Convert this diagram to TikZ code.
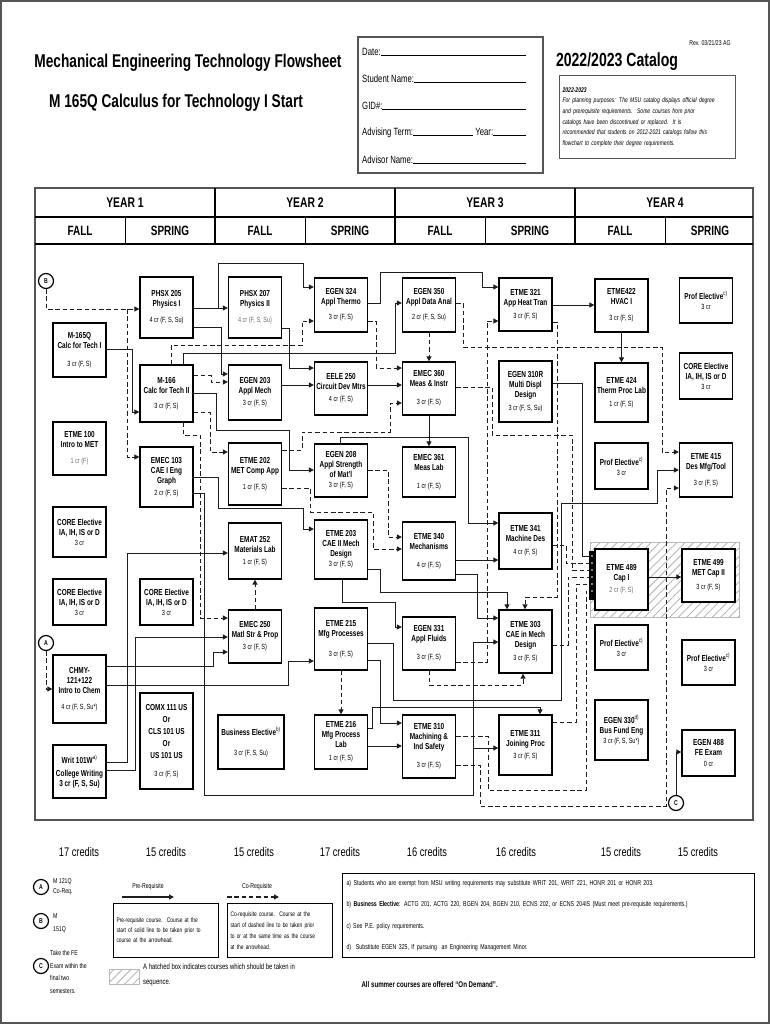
\documentclass[tikz,border=0pt]{standalone}
\usepackage{fontspec}
\setmainfont{Liberation Sans}[FakeStretch=0.74]
\usetikzlibrary{arrows.meta,patterns.meta}
\definecolor{cLine}{HTML}{1E1E1E}
\definecolor{cFrame}{HTML}{555555}
\definecolor{cHatch}{HTML}{B8B8B8}
\definecolor{cSoft}{HTML}{6E6E6E}
\newcommand{\fsz}[2]{\fontsize{#1}{#2}\selectfont}
\newcommand{\crd}[2][5pt]{\\[#1]{\mdseries\fsz{7.5}{9}#2}}
\newcommand{\nt}[1]{\textsuperscript{\mdseries #1}}
\tikzset{
  crs/.style={draw=black, line width=1.3pt, fill=white, align=center,
              font=\fsz{8.7}{9.9}\bfseries, inner sep=1pt, minimum width=53pt},
  pre/.style={draw=cLine, line width=1pt, -{Triangle[length=5pt,width=5pt]}},
  co/.style={pre, dash pattern=on 4.5pt off 2.8pt},
  circtag/.style={circle, draw=black, line width=1.2pt, fill=white, inner sep=0pt,
                  minimum size=15pt, font=\fsz{7}{7}\bfseries},
  ttl/.style={font=\fsz{18.5}{21}\bfseries},
  yr/.style={font=\fsz{14}{16}\bfseries},
  sem/.style={font=\fsz{13.5}{15}\bfseries},
  credit/.style={font=\fsz{12.5}{14}},
  field/.style={anchor=west, font=\fsz{10.5}{12}, inner sep=0pt},
  lgd/.style={font=\fsz{7}{9.5}, align=left, inner sep=0pt},
  lgdbox/.style={draw=black, line width=1pt, align=left, inner sep=3pt, anchor=north west},
  hatch/.style={pattern={Lines[angle=45,distance=6pt,line width=0.9pt]}, pattern color=cHatch},
}

\begin{document}
\begin{tikzpicture}[x=1pt,y=-1pt]
  \useasboundingbox (0,0) rectangle (770,1024);
  \draw[cFrame, line width=1.2pt] (1,1) rectangle (769,1023);

  % heading
  \node[ttl] (title) at (188,63) {Mechanical Engineering Technology Flowsheet};
  \node[ttl] (subtitle) at (176,103) {M 165Q Calculus for Technology I Start};
  \node[draw=cFrame, line width=1.4pt, minimum width=185, minimum height=136] (info) at (450.5,105) {};
  \node[field] (fdate) at (362,52) {\makebox[164pt][l]{Date:\hrulefill}};
  \node[field] (fname) at (362,79) {\makebox[164pt][l]{Student Name:\hrulefill}};
  \node[field] (fgid) at (362,106) {\makebox[164pt][l]{GID\#:\hrulefill}};
  \node[field] (fterm) at (362,133) {\makebox[164pt][l]{Advising Term:\makebox[60pt]{\hrulefill}\ Year:\hrulefill}};
  \node[field] (fadv) at (362,160) {\makebox[164pt][l]{Advisor Name:\hrulefill}};
  \node[font=\fsz{7}{8}] (rev) at (710,43) {Rev. 03/21/23 AG};
  \node[font=\fsz{19}{22}\bfseries] (catalog) at (617,62) {2022/2023 Catalog};
  \node[draw=cFrame, line width=1.2pt, anchor=north west, text width=170, minimum height=83,
        inner sep=3pt, align=left, font=\fsz{6.8}{10.6}\itshape] (catnote) at (559,75)
    {\textbf{2022-2023}\\For planning purposes: The MSU catalog displays official degree\\and prerequisite requirements.\ \ Some courses from prior\\catalogs have been discontinued or replaced.\ \ It is\\recommended that students on 2012-2021 catalogs follow this\\flowchart to complete their degree requirements.};

  % year grid
  \draw[cFrame, line width=1.6pt] (35,188) rectangle (753,820);
  \draw[line width=1.4pt] (35,217) -- (753,217) (35,244) -- (753,244);
  \foreach \x in {215,395,575} \draw[line width=1.4pt] (\x,188) -- (\x,244);
  \foreach \x in {125,305,485,665} \draw[line width=1pt] (\x,217) -- (\x,244);
  \foreach \x/\n in {125/1,305/2,485/3,665/4} \node[yr] (year\n) at (\x,203) {YEAR \n};
  \foreach \x/\n in {80/1,260/3,440/5,620/7} \node[sem] (sem\n) at (\x,231) {FALL};
  \foreach \x/\n in {170/2,350/4,530/6,710/8} \node[sem] (sem\n) at (\x,231) {SPRING};

  \fill[hatch] (590,542) rectangle (739,617);
  \draw[cHatch, line width=0.8pt] (590,542) rectangle (739,617);

  % year 1
  \node[crs, minimum height=54] (m165) at (79.5,350) {M-165Q\\Calc for Tech I\crd[8pt]{3 cr (F, S)}};
  \node[crs, minimum height=53] (etme100) at (79.5,448.5) {ETME 100\\Intro to MET\crd[6pt]{\color{cSoft}1 cr (F)}};
  \node[crs, minimum height=50] (core1) at (79.5,532) {CORE Elective\\IA, IH, IS or D\crd[0pt]{3 cr}};
  \node[crs, minimum height=46] (core2) at (79.5,602) {CORE Elective\\IA, IH, IS or D\crd[0pt]{3 cr}};
  \node[crs, minimum height=68] (chmy) at (79.5,689) {CHMY-\\121+122\\Intro to Chem\crd[6pt]{4 cr (F, S, Su*)}};
  \node[crs, minimum height=53] (writ) at (79.5,771.5) {Writ 101W\nt{a)}\\[3pt]College Writing\\3 cr (F, S, Su)};
  \node[crs, minimum height=61] (phsx205) at (166.5,307.5) {PHSX 205\\Physics I\crd[6pt]{4 cr (F, S, Su)}};
  \node[crs, minimum height=57] (m166) at (166.5,393.5) {M-166\\Calc for Tech II\crd{3 cr (F, S)}};
  \node[crs, minimum height=60] (emec103) at (166.5,477) {EMEC 103\\CAE I Eng\\Graph\crd[2pt]{2 cr (F, S)}};
  \node[crs, minimum height=46] (core3) at (166.5,602) {CORE Elective\\IA, IH, IS or D\crd[0pt]{3 cr}};
  \node[crs, minimum height=96] (comx) at (166.5,741) {COMX 111 US\\[2pt]Or\\[2pt]CLS 101 US\\[2pt]Or\\[2pt]US 101 US\crd[8pt]{3 cr (F, S)}};

  % year 2
  \node[crs, minimum height=61] (phsx207) at (255,307.5) {PHSX 207\\Physics II\crd[6pt]{\color{cSoft}4 cr (F, S, Su)}};
  \node[crs, minimum height=55] (egen203) at (255,392.5) {EGEN 203\\Appl Mech\crd[2pt]{3 cr (F, S)}};
  \node[crs, minimum height=62] (etme202) at (255,474) {ETME 202\\MET Comp App\crd[6pt]{1 cr (F, S)}};
  \node[crs, minimum height=56] (emat252) at (255,551) {EMAT 252\\Materials Lab\crd[2pt]{1 cr (F, S)}};
  \node[crs, minimum height=53] (emec250) at (255,636.5) {EMEC 250\\Matl Str \& Prop\crd[2pt]{3 cr (F, S)}};
  \node[crs, minimum height=54, minimum width=66] (buselec) at (251,742) {Business Elective\nt{b)}\crd[10pt]{3 cr (F, S, Su)}};
  \node[crs, minimum height=54] (egen324) at (341,305) {EGEN 324\\Appl Thermo\crd[5pt]{3 cr (F, S)}};
  \node[crs, minimum height=53] (eele250) at (341,388.5) {EELE 250\\Circuit Dev Mtrs\crd[2pt]{4 cr (F, S)}};
  \node[crs, minimum height=53] (egen208) at (341,470.5) {EGEN 208\\Appl Strength\\of Mat'l\crd[0pt]{3 cr (F, S)}};
  \node[crs, minimum height=59] (etme203) at (341,549.5) {ETME 203\\CAE II Mech\\Design\crd[0pt]{3 cr (F, S)}};
  \node[crs, minimum height=62] (etme215) at (341,639) {ETME 215\\Mfg Processes\crd[10pt]{3 cr (F, S)}};
  \node[crs, minimum height=54] (etme216) at (341,742) {ETME 216\\Mfg Process\\Lab\crd[3pt]{1 cr (F, S)}};

  % year 3
  \node[crs, minimum height=54] (egen350) at (429,305) {EGEN 350\\Appl Data Anal\crd[5pt]{2 cr (F, S, Su)}};
  \node[crs, minimum height=53] (emec360) at (429,388.5) {EMEC 360\\Meas \& Instr\crd[8pt]{3 cr (F, S)}};
  \node[crs, minimum height=50] (emec361) at (429,472) {EMEC 361\\Meas Lab\crd[8pt]{1 cr (F, S)}};
  \node[crs, minimum height=58] (etme340) at (429,551) {ETME 340\\Mechanisms\crd[8pt]{4 cr (F, S)}};
  \node[crs, minimum height=53] (egen331) at (429,643.5) {EGEN 331\\Appl Fluids\crd[8pt]{3 cr (F, S)}};
  \node[crs, minimum height=63] (etme310) at (429,746.5) {ETME 310\\Machining \&\\Ind Safety\crd[8pt]{3 cr (F, S)}};
  \node[crs, minimum height=53] (etme321) at (525.5,304.5) {ETME 321\\App Heat Tran\crd[3pt]{3 cr (F, S)}};
  \node[crs, minimum height=61] (egen310r) at (525.5,391.5) {EGEN 310R\\Multi Displ\\Design\crd[3pt]{3 cr (F, S, Su)}};
  \node[crs, minimum height=56] (etme341) at (525.5,541) {ETME 341\\Machine Des\crd[3pt]{4 cr (F, S)}};
  \node[crs, minimum height=63] (etme303) at (525.5,641.5) {ETME 303\\CAE in Mech\\Design\crd[3pt]{3 cr (F, S)}};
  \node[crs, minimum height=60] (etme311) at (525.5,745) {ETME 311\\Joining Proc\crd[2pt]{3 cr (F, S)}};

  % year 4
  \node[crs, minimum height=53] (etme422) at (621.5,305.5) {ETME422\\HVAC I\crd[6pt]{3 cr (F, S)}};
  \node[crs, minimum height=59] (etme424) at (621.5,392.5) {ETME 424\\Therm Proc Lab\crd[3pt]{1 cr (F, S)}};
  \node[crs, minimum height=46] (prof1) at (621.5,466) {Prof Elective\nt{c)}\crd[0pt]{3 cr}};
  \node[crs, minimum height=61] (etme489) at (621.5,579.5) {ETME 489\\Cap I\crd[2pt]{\color{cSoft}2 cr (F, S)}};
  \node[crs, minimum height=45] (prof2) at (621.5,647.5) {Prof Elective\nt{c)}\crd[0pt]{3 cr}};
  \node[crs, minimum height=60] (egen330) at (621.5,730) {EGEN 330\nt{d)}\\Bus Fund Eng\crd[0pt]{3 cr (F, S, Su*)}};
  \node[crs, minimum height=45] (prof3) at (706,300.5) {Prof Elective\nt{c)}\crd[0pt]{3 cr}};
  \node[crs, minimum height=46] (core4) at (706,376) {CORE Elective\\IA, IH, IS or D\crd[0pt]{3 cr}};
  \node[crs, minimum height=54] (etme415) at (706,470) {ETME 415\\Des Mfg/Tool\crd[6pt]{3 cr (F, S)}};
  \node[crs, minimum height=53] (etme499) at (708.5,575.5) {ETME 499\\MET Cap II\crd[4pt]{3 cr (F, S)}};
  \node[crs, minimum height=45] (prof4) at (708.5,662.5) {Prof Elective\nt{c)}\crd[0pt]{3 cr}};
  \node[crs, minimum height=46] (egen488) at (708.5,753) {EGEN 488\\FE Exam\crd[2pt]{0 cr}};

  \node[circtag] (bcirc) at (46,281) {B};
  \node[circtag] (acirc) at (46,643) {A};
  \node[circtag] (ccirc) at (676,803) {C};

  % year 1 links
  \coordinate (bsplit) at (127,309);
  \coordinate (jn311) at (473,748);
  \draw[co] (bcirc.south) |- (phsx205.west |- 0,309);
  \draw[co] (bsplit) |- (emec103.west |- 0,457);
  \draw[pre] (m165.east |- 0,349) -| (132,412) -- (m166.west |- 0,412);
  \draw[co] (acirc.south) |- (chmy.west |- 0,689);
  \draw[pre] (chmy.east |- 0,666) -| (213,652) -- (emec250.west |- 0,652);
  \draw[pre] (chmy.east |- 0,685) -| (288,661) -- (etme215.west |- 0,661);
  \draw[pre] (writ.east |- 0,762) -| (127,553) -- (emat252.west |- 0,553);
  \draw[pre] (writ.east |- 0,770) -| (135,637) -- (emec250.west |- 0,637);
  \draw[pre] (phsx205.east |- 0,308) -- (phsx207.west |- 0,308);
  \draw[pre] (phsx205.east |- 0,308) -| (218,263) -| (303,287) -- (egen324.west |- 0,287);
  \draw[pre] (phsx205.east |- 0,327) -| (221,374) -- (egen203.west |- 0,374);
  \draw[co] (m166.east |- 0,375) -| (211,382) -- (egen203.west |- 0,382);
  \draw[pre] (m166.east |- 0,393) -| (216,430) -| (289,470) -- (egen208.west |- 0,470);
  \draw[co] (m166.east |- 0,412) -| (210,452) -- (etme202.west |- 0,452);
  \draw[co] (m166.south -| 183,0) |- (200,435) |- (emec250.west |- 0,618);
  \draw[pre] (m166.north -| 183,0) |- (395,353) |- (egen350.west |- 0,303);
  \draw[co] (m166.north -| 171,0) |- (302,345) |- (egen324.west |- 0,321);
  \draw[pre] (emec103.east |- 0,477) -| (218,508) -| (303,529) -- (etme203.west |- 0,529);
  \draw[pre] (emec103.east |- 0,493) -| (204,795) -| (473,642) -- (etme303.west |- 0,642);
  \draw[pre] (jn311) -- (etme311.west |- 0,748);

  % year 2 links
  \draw[pre] (phsx207.east |- 0,328) -| (289,368) -- (eele250.west |- 0,368);
  \draw[pre] (egen203.east |- 0,385) -- (eele250.west |- 0,385);
  \draw[co] (etme202.east |- 0,450) -| (302,432) -| (390,403) -- (emec360.west |- 0,403);
  \draw[co] (etme202.east |- 0,488) -| (310,512) -| (373,549) -- (etme340.west |- 0,549);
  \draw[co] (emec250.north) -- (emat252.south);
  \draw[pre] (egen324.east |- 0,303) -| (380,272) -| (482,287) -- (etme321.west |- 0,287);
  \draw[co] (egen324.east |- 0,321) -| (376,368) -- (emec360.west |- 0,368);
  \draw[pre] (eele250.east |- 0,385) -- (emec360.west |- 0,385);
  \draw[pre] (egen208.north -| 340,0) |- (468,437) |- (etme341.west |- 0,523);
  \draw[co] (egen208.east |- 0,470) -| (388,537) -- (etme340.west |- 0,537);
  \draw[pre] (etme203.east |- 0,569) -| (380,592) -| (etme303.north -| 507,0);
  \draw[pre] (etme203.south -| 342,0) |- (395,602) |- (egen331.west |- 0,627);
  \draw[co] (etme215.south) -- (etme216.north);
  \draw[pre] (etme215.east |- 0,643) -| (393,700) -| (561,503) -| (657,470) -- (etme415.west |- 0,470);
  \draw[pre] (etme215.east |- 0,660) -| (380,723) -- (etme310.west |- 0,723);
  \draw[pre] (etme216.east |- 0,746) -- (etme310.west |- 0,746);
  \draw[pre] (etme216.east |- 0,728) -| (372,707) -| (etme311.north -| 540,0);

  % year 3 and 4 links
  \draw[co] (egen350.south) -- (emec360.north);
  \draw[pre] (emec360.south) -- (emec361.north);
  \draw[co] (egen350.east |- 0,303) -| (463,347) -| (662,452) -- (etme415.west |- 0,452);
  \draw[co] (emec360.east |- 0,387) -| (492,435) -| (572,570) -- (etme489.west |- 0,570);
  \draw[co] (egen331.east |- 0,662) -| (487,321) -- (etme321.west |- 0,321);
  \draw[co] (egen331.south) |- (523,685) -- (etme303.south -| 523,0);
  \draw[pre] (etme340.east |- 0,560) -- (etme341.west |- 0,560);
  \draw[pre] (etme340.east |- 0,574) -| (477,618) -- (etme303.west |- 0,618);
  \draw[co] (etme321.east |- 0,322) -| (557,597) -| (etme303.north -| 525,0);
  \draw[co] (etme341.east |- 0,545) -| (566,563) -- (etme489.west |- 0,563);
  \draw[pre] (egen310r.east |- 0,383) -| (582,556) -- (etme489.west |- 0,556);
  \draw[co] (etme303.east |- 0,645) -| (568,577) -- (etme489.west |- 0,577);
  \draw[co] (etme311.east |- 0,722) -| (576,584) -- (etme489.west |- 0,584);
  \draw[co] (etme310.east |- 0,765) -| (480,806) -| (666,488) -- (etme415.west |- 0,488);
  \draw[co] (etme310.east |- 0,736) -| (488,790) -| (586,591) -- (etme489.west |- 0,591);
  \draw[pre] (etme321.east |- 0,305) -- (etme422.west |- 0,305);
  \draw[pre] (etme422.south) -- (etme424.north);
  \draw[pre] (etme489.east |- 0,577) -- (etme499.west |- 0,577);
  \draw[pre] (ccirc.north) |- (egen488.west |- 0,752);
  \fill[black] (589,551) rectangle (595,600);
  \foreach \y in {556,563,570,577,584,591} \fill[white] (592,\y) circle (0.9pt);

  % credits per term
  \foreach \x/\c [count=\k] in {79/17,166/15,254/15,340/17,427/16,516/16,621/15,698/15}
    \node[credit] (cred\k) at (\x,852) {\c\ credits};

  % legend
  \node[circtag] (lega) at (41,887) {A};
  \node[lgd, anchor=west] (legatext) at (53,887) {M 121Q\\Co-Req.};
  \node[circtag] (legb) at (41,921) {B};
  \node[lgd, anchor=west] (legbtext) at (53,923) {M\\[3pt]151Q};
  \node[circtag] (legc) at (41,966) {C};
  \node[lgd, anchor=west, font=\fsz{7}{12.5}] (legctext) at (50,972) {Take the FE\\Exam within the\\final two\\semesters.};
  \node[lgd] (prelbl) at (148,887) {Pre-Requisite};
  \coordinate (pre0) at (122,897);
  \coordinate (pre1) at (174,897);
  \draw[pre, line width=1.4pt] (pre0) -- (pre1);
  \node[lgdbox, minimum width=105, minimum height=54, text width=99, font=\fsz{6.6}{10}] (prebox) at (113,903)
    {Pre-requisite course.\ \ Course at the\\start of solid line to be taken prior to\\course at the arrowhead.};
  \node[lgd] (colbl) at (257,887) {Co-Requisite};
  \coordinate (co0) at (227,897);
  \coordinate (co1) at (279,897);
  \draw[co, line width=1.4pt] (co0) -- (co1);
  \node[lgdbox, minimum width=105, minimum height=54, text width=99, font=\fsz{6.6}{11}] (cobox) at (227,903)
    {Co-requisite course.\ \ Course at the\\start of dashed line to be taken prior\\to or at the same time as the course\\at the arrowhead.};
  \fill[hatch] (109,969) rectangle (139,984);
  \draw[cHatch, line width=0.8pt] (109,969) rectangle (139,984);
  \node[lgd, anchor=north west, font=\fsz{8}{15}] (hatchtext) at (143,963)
    {A hatched box indicates courses which should be taken in\\sequence.};
  \node[lgdbox, minimum width=412, minimum height=84, text width=404, font=\fsz{7.1}{21.5}] (notes) at (342,873)
    {a) Students who are exempt from MSU writing requirements may substitute WRIT 201, WRIT 221, HONR 201 or HONR 203.\\
     b) \textbf{Business Elective}: ACTG 201, ACTG 220, BGEN 204, BGEN 210, ECNS 202, or ECNS 204IS (Must meet pre-requisite requirements.)\\
     c) See P.E. policy requirements.\\
     d)\ \ Substitute EGEN 325, If pursuing\ \ an Engineering Management Minor.};
  \node[anchor=west, font=\fsz{8.3}{10}\bfseries] (summer) at (358,985) {All summer courses are offered ``On Demand''.};
\end{tikzpicture}
\end{document}
